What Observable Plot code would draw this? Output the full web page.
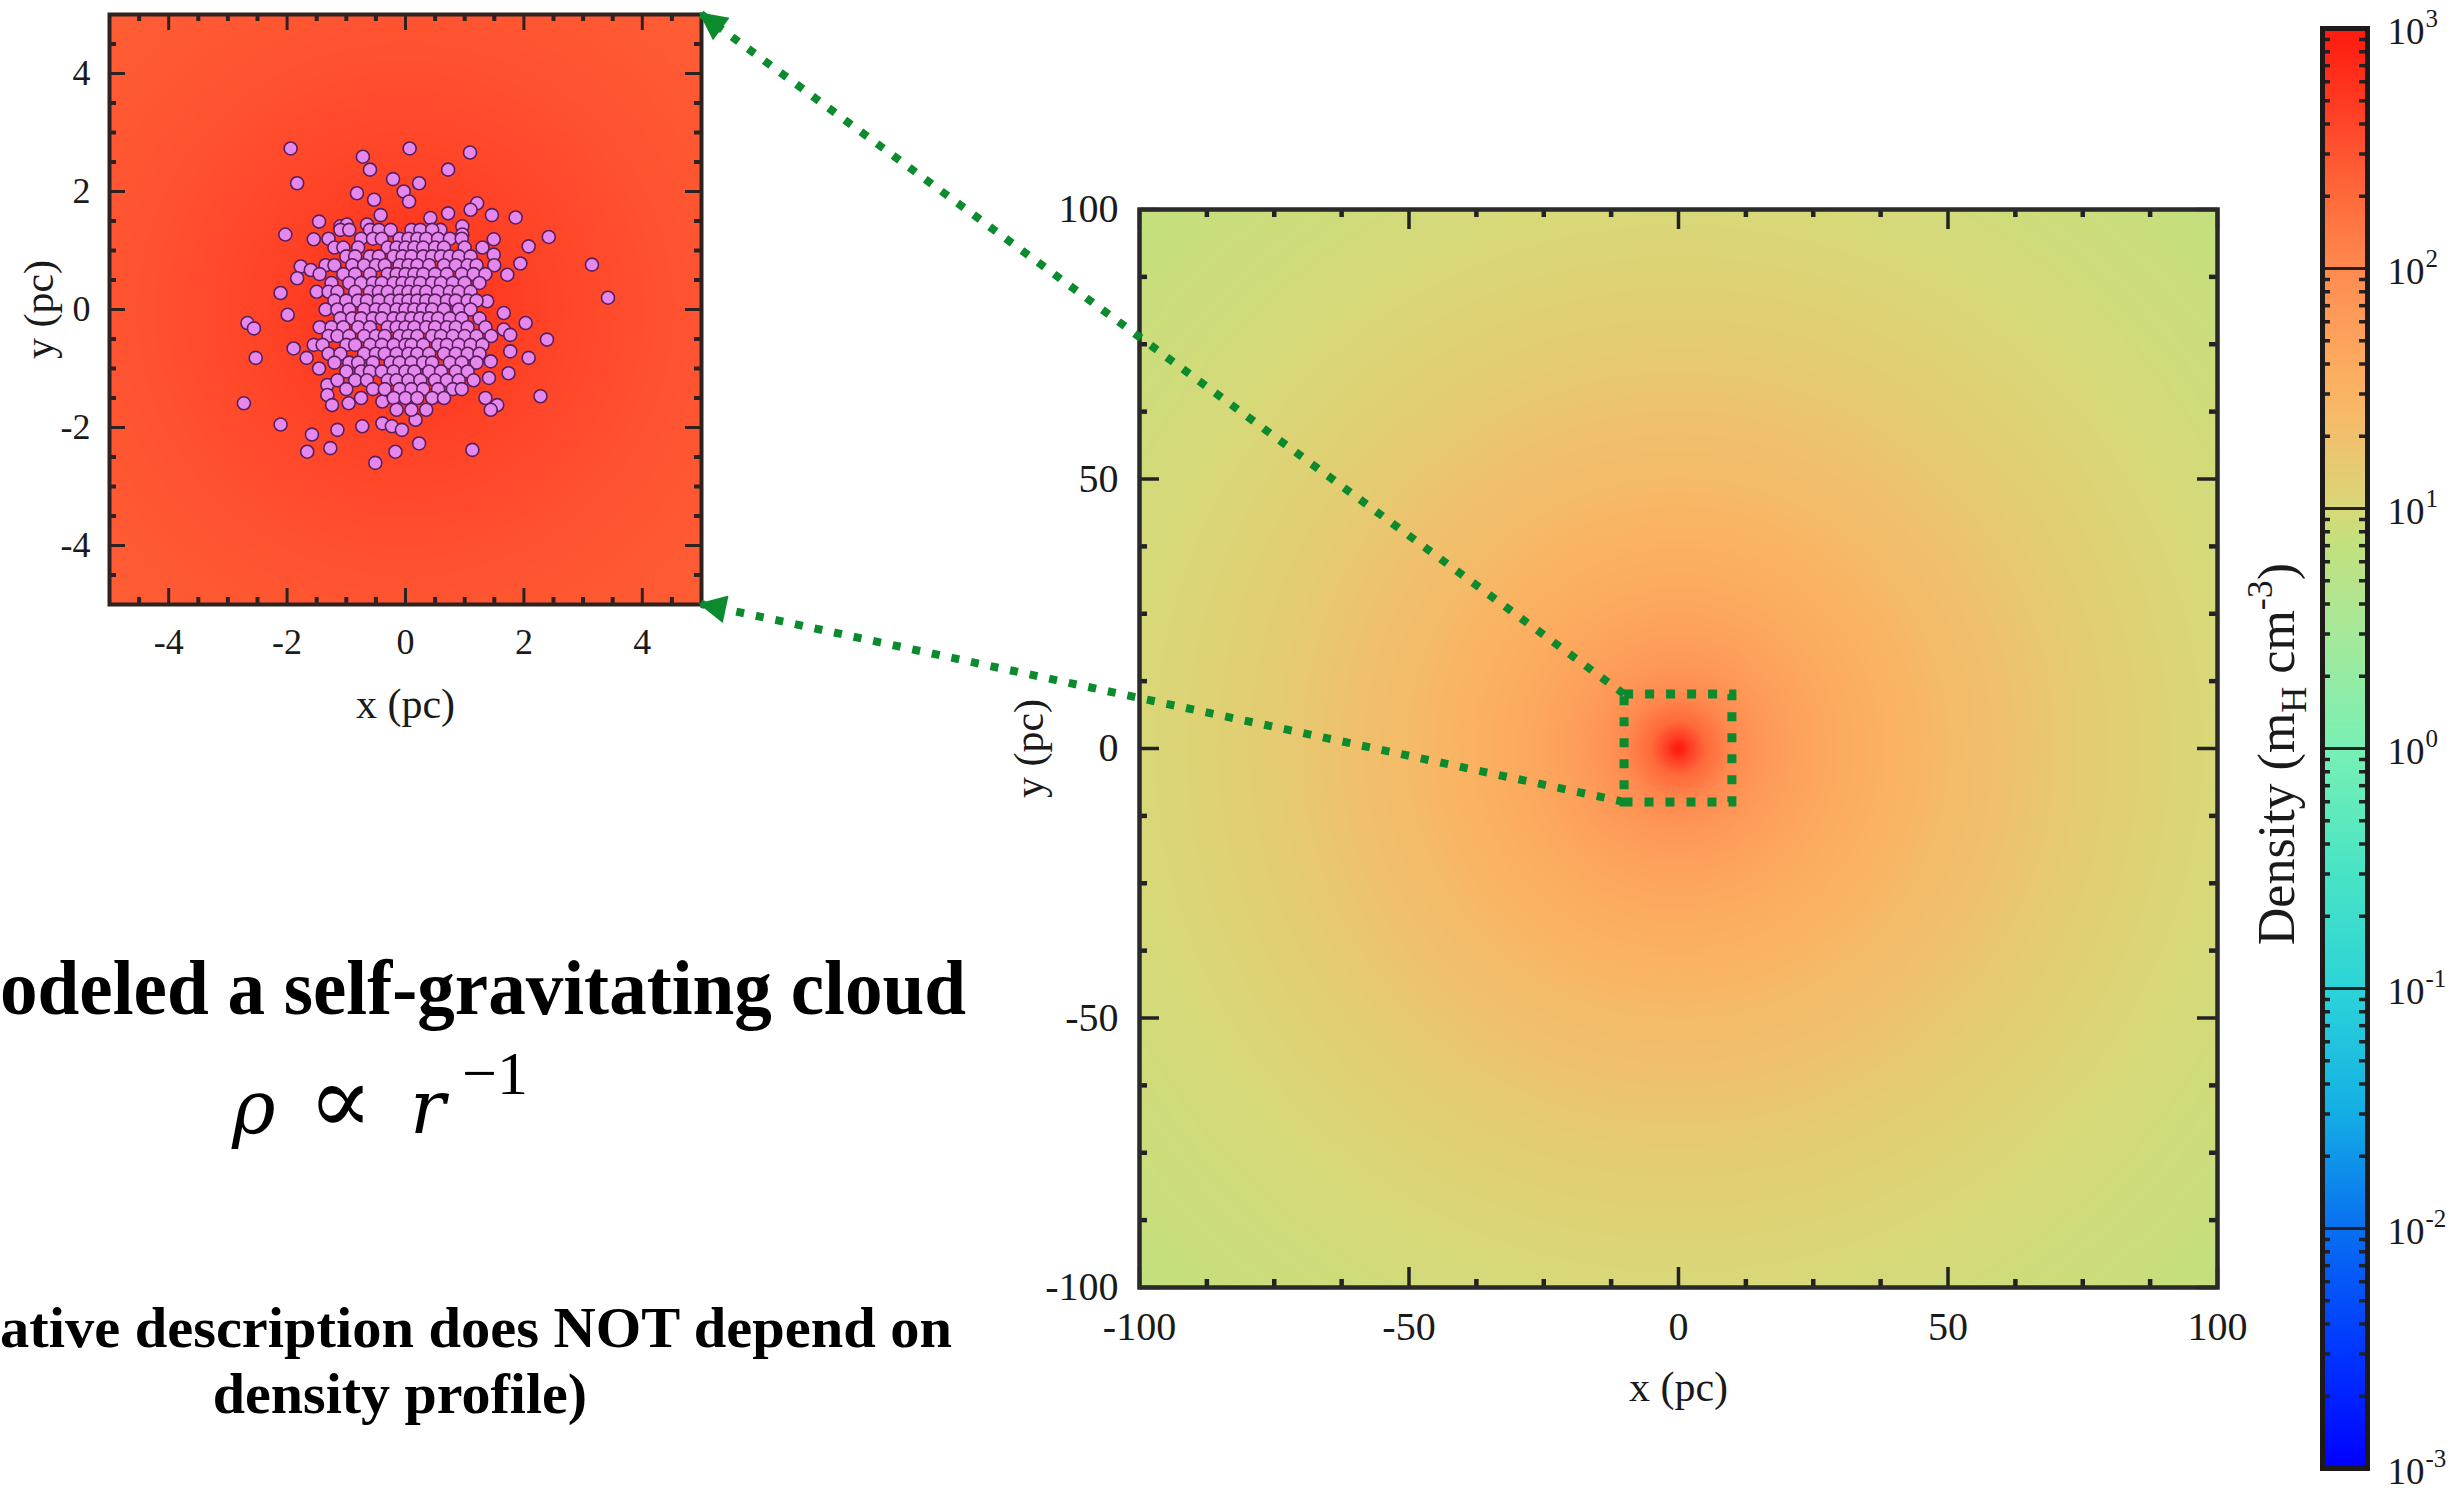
<!DOCTYPE html>
<html><head><meta charset="utf-8">
<script src="https://cdn.jsdelivr.net/npm/d3@7"></script>
<script src="https://cdn.jsdelivr.net/npm/@observablehq/plot@0.6"></script>
<style>
html,body{margin:0;padding:0;background:#fff;}
#page{position:relative;width:2463px;height:1492px;overflow:hidden;background:#fff;font-family:"Liberation Serif",serif;}
#page svg{position:absolute;background:transparent;max-width:none;}
</style></head><body><div id="page"></div>
<script>
// ---------- data ----------
const densityDecades = [-3, -2, -1, 0, 1, 2, 3];
const colorStopsLog = [-3, -2.5, -2, -1.5, -1, -0.5, 0, 0.5, 0.85, 1, 1.3, 1.5, 1.7, 2, 2.3, 2.5, 2.7, 3];
const colorStops = ["#0000ff","#0038ff","#0870f0","#14b0e4","#2cd4d8","#4ae4c4","#78f0b4","#a8e898","#c2e07e","#d8d878","#f0c06c","#fbb262","#fda35c","#ff8a50","#ff6a3a","#ff5230","#ff3a20","#ff1a10"];
// radial density profile (r in pc, log10 density)
const mainProfileR = [0, 1, 2, 5, 10, 15, 20, 30, 50, 75, 100, 142];
const mainProfileLog = [3.0, 2.9, 2.7, 2.3, 2.0, 1.85, 1.75, 1.6, 1.38, 1.16, 1.0, 0.85];
// radial profile
const insetProfileR = [0, 1, 2, 3, 5, 7.1];
const insetProfileLog = [2.85, 2.75, 2.65, 2.58, 2.48, 2.4];
const mainExtent = [-100, 100];
const insetExtent = [-5, 5];
const zoomBox = [-10, 10];
const mainTicksMajor = [-100, -50, 0, 50, 100];
const mainTicksMinor = [-87.5, -75, -62.5, -37.5, -25, -12.5, 12.5, 25, 37.5, 62.5, 75, 87.5];
const insetTicksMajor = [-4, -2, 0, 2, 4];
const insetTicksMinor = [-4.5, -3.5, -3, -2.5, -1.5, -1, -0.5, 0.5, 1, 1.5, 2.5, 3, 3.5, 4.5];
// star positions in the inset (pc)
const outerX = [-1.94,0.07,1.09,-0.72,-0.60,0.72,-1.83,-0.21,0.23,-0.82,-0.53,-0.03,0.06,-0.42,1.21,1.10,0.72,1.46,1.86,-1.46,-1.10,-0.99,-0.65,0.42,0.59,0.96,0.96,-2.03,2.42,-1.55,1.49,2.08,1.49,1.94,3.15,3.42,-1.77,-1.60,-1.83,-2.11,1.38,1.72,-1.99,-2.67,-2.56,1.66,2.03,2.39,1.66,1.77,-2.53,-1.89,-1.67,-1.46,1.77,2.08,1.44,1.74,1.41,-2.73,2.28,1.35,1.55,1.44,-1.32,-1.32,-1.24,-0.96,-2.11,-1.58,-1.15,-1.66,-1.27,-0.73,-0.39,-0.23,-0.06,0.17,-0.39,0.23,-0.17,-0.51,1.13];
const outerY = [2.73,2.73,2.66,2.59,2.37,2.37,2.14,2.21,2.14,1.97,1.86,2.0,1.83,1.60,1.80,1.69,1.63,1.60,1.56,1.49,1.41,1.44,1.44,1.55,1.35,1.41,1.27,1.27,1.23,1.19,1.19,1.07,0.93,0.78,0.76,0.2,0.73,0.67,0.53,0.28,0.14,0.59,-0.09,-0.23,-0.32,-0.06,-0.23,-0.51,-0.34,-0.43,-0.82,-0.66,-0.82,-1.0,-0.71,-0.82,-0.88,-1.08,-1.16,-1.59,-1.47,-1.50,-1.62,-1.70,-1.28,-1.45,-1.62,-1.59,-1.95,-2.12,-2.04,-2.41,-2.35,-1.98,-1.93,-1.98,-2.04,-1.87,-1.56,-2.27,-2.41,-2.60,-2.38];
const coreRowY = [1.35, 1.2, 1.05, 0.9, 0.75, 0.6, 0.45, 0.3, 0.15, 0.0, -0.15, -0.3, -0.45, -0.6, -0.75, -0.9, -1.05, -1.2, -1.35, -1.5, -1.7];
const coreRowX = [
  [-1.1,-0.95,-0.6,-0.45,-0.25,0.1,0.25,0.45],
  [-1.3,-0.75,-0.55,-0.4,-0.1,0.05,0.2,0.35,0.55,0.75,0.95],
  [-1.2,-1.05,-0.8,-0.3,-0.15,0.0,0.15,0.3,0.5,0.65,1.0,1.3],
  [-1.0,-0.85,-0.6,-0.45,-0.2,-0.05,0.1,0.3,0.45,0.6,0.75,0.9,1.1],
  [-1.35,-1.2,-0.9,-0.7,-0.5,-0.35,-0.1,0.05,0.2,0.4,0.65,0.85,1.05,1.2,1.5],
  [-1.45,-1.05,-0.85,-0.6,-0.3,-0.15,0.0,0.15,0.3,0.5,0.7,0.95,1.15,1.35],
  [-1.25,-0.95,-0.75,-0.55,-0.4,-0.2,-0.05,0.1,0.25,0.45,0.6,0.8,1.0,1.25],
  [-1.5,-1.3,-1.15,-0.85,-0.6,-0.45,-0.3,-0.1,0.05,0.2,0.35,0.55,0.75,0.9,1.1],
  [-1.2,-1.0,-0.8,-0.65,-0.45,-0.25,-0.1,0.05,0.2,0.35,0.5,0.7,0.85,1.05,1.2],
  [-1.35,-1.15,-0.95,-0.7,-0.5,-0.35,-0.15,0.0,0.15,0.3,0.45,0.65,0.9,1.1],
  [-1.1,-0.9,-0.75,-0.55,-0.4,-0.2,-0.05,0.1,0.25,0.4,0.55,0.75,0.95,1.25],
  [-1.45,-1.25,-1.05,-0.8,-0.6,-0.3,-0.15,0.0,0.15,0.35,0.5,0.7,0.85,1.05,1.35],
  [-1.3,-1.15,-0.95,-0.7,-0.5,-0.35,-0.1,0.05,0.2,0.45,0.6,0.8,1.0,1.2,1.45],
  [-1.55,-1.4,-1.0,-0.85,-0.6,-0.4,-0.2,0.0,0.1,0.3,0.55,0.7,0.9,1.1,1.3],
  [-1.3,-1.1,-0.7,-0.5,-0.35,-0.15,0.05,0.2,0.4,0.65,0.85,1.05,1.25],
  [-1.2,-0.95,-0.8,-0.55,-0.25,-0.1,0.1,0.3,0.45,0.75,0.95,1.2],
  [-1.0,-0.75,-0.6,-0.4,-0.2,0.0,0.15,0.4,0.6,0.85,1.05],
  [-1.15,-0.85,-0.65,-0.3,-0.15,0.05,0.25,0.5,0.7,0.9,1.15],
  [-1.0,-0.55,-0.35,-0.1,0.1,0.3,0.55,0.8,0.95],
  [-0.75,-0.2,0.0,0.2,0.45,0.65],
  [-0.15,0.1,0.35]
];

// ---------- build tables ----------
const stars = outerX.map((x, i) => ({x, y: outerY[i]}));
coreRowY.forEach((y, i) => coreRowX[i].forEach(x => stars.push({x, y})));
const boxData = [{x1: zoomBox[0], x2: zoomBox[1], y1: zoomBox[0], y2: zoomBox[1]}];
const mainLog = d3.scaleLinear().domain(mainProfileR).range(mainProfileLog).clamp(true);
const insetLog = d3.scaleLinear().domain(insetProfileR).range(insetProfileLog).clamp(true);
const colorOpts = {type: "linear", domain: colorStopsLog, range: colorStops, interpolate: "rgb"};
const minorDecades = [];
for (let n = -3; n < 3; n++) for (let k = 2; k <= 9; k++) minorDecades.push(n + Math.log10(k));
const plain = d => String(d);

const page = document.getElementById("page");
function place(el, left, top) { el.style.left = left + "px"; el.style.top = top + "px"; page.appendChild(el); return el; }

function inwardTicks(major, minor, fw, fh, majLen, minLen, stroke, sw) {
  return [
    Plot.tickX(major, {x: d => d, insetTop: fh - majLen, stroke, strokeWidth: sw}),
    Plot.tickX(major, {x: d => d, insetBottom: fh - majLen, stroke, strokeWidth: sw}),
    Plot.tickX(minor, {x: d => d, insetTop: fh - minLen, stroke, strokeWidth: sw + 1}),
    Plot.tickX(minor, {x: d => d, insetBottom: fh - minLen, stroke, strokeWidth: sw + 1}),
    Plot.tickY(major, {y: d => d, insetRight: fw - majLen, stroke, strokeWidth: sw}),
    Plot.tickY(major, {y: d => d, insetLeft: fw - majLen, stroke, strokeWidth: sw}),
    Plot.tickY(minor, {y: d => d, insetRight: fw - minLen, stroke, strokeWidth: sw + 1}),
    Plot.tickY(minor, {y: d => d, insetLeft: fw - minLen, stroke, strokeWidth: sw + 1})
  ];
}

// ---------- inset ----------
const INS = {left: 0, top: 0, w: 760, h: 740, ml: 109, mr: 59, mt: 14, mb: 136};
const insFW = INS.w - INS.ml - INS.mr, insFH = INS.h - INS.mt - INS.mb;
const inset = Plot.plot({
  width: INS.w, height: INS.h,
  marginLeft: INS.ml, marginRight: INS.mr, marginTop: INS.mt, marginBottom: INS.mb,
  x: {domain: insetExtent, label: null}, y: {domain: insetExtent, label: null},
  color: colorOpts,
  style: {fontFamily: "Liberation Serif", fontSize: "36px", color: "#1a1a1a", background: "transparent", overflow: "visible"},
  marks: [
    Plot.raster({fill: (x, y) => insetLog(Math.hypot(x, y)), x1: insetExtent[0], x2: insetExtent[1], y1: insetExtent[0], y2: insetExtent[1], pixelSize: 2}),
    Plot.dot(stars, {x: "x", y: "y", r: 6.5, fill: "#e588ee", stroke: "#5a1e5c", strokeWidth: 1.6}),
    ...inwardTicks(insetTicksMajor, insetTicksMinor, insFW, insFH, 16, 7, "#2e2220", 3),
    Plot.frame({stroke: "#2e2220", strokeWidth: 4}),
    Plot.axisX(insetTicksMajor, {tickSize: 0, tickPadding: 24, fontSize: 36, label: null, tickFormat: plain}),
    Plot.axisY(insetTicksMajor, {tickSize: 0, tickPadding: 19, fontSize: 36, label: null, tickFormat: plain}),
    Plot.text(["x (pc)"], {text: d => d, frameAnchor: "bottom", lineAnchor: "middle", dy: 100, fontSize: 42}),
    Plot.text(["y (pc)"], {text: d => d, frameAnchor: "left", textAnchor: "middle", lineAnchor: "middle", dx: -70, rotate: -90, fontSize: 42})
  ]
});
place(inset, INS.left, INS.top);

// ---------- main map ----------
const MN = {left: 1000, top: 150, w: 1260, h: 1300, ml: 139, mr: 43, mt: 59, mb: 163};
const mnFW = MN.w - MN.ml - MN.mr, mnFH = MN.h - MN.mt - MN.mb;
const main = Plot.plot({
  width: MN.w, height: MN.h,
  marginLeft: MN.ml, marginRight: MN.mr, marginTop: MN.mt, marginBottom: MN.mb,
  x: {domain: mainExtent, label: null}, y: {domain: mainExtent, label: null},
  color: colorOpts,
  style: {fontFamily: "Liberation Serif", fontSize: "40px", color: "#1a1a1a", background: "transparent", overflow: "visible"},
  marks: [
    Plot.raster({fill: (x, y) => mainLog(Math.hypot(x, y)), x1: mainExtent[0], x2: mainExtent[1], y1: mainExtent[0], y2: mainExtent[1], pixelSize: 2}),
    ...inwardTicks(mainTicksMajor, mainTicksMinor, mnFW, mnFH, 20, 8, "#222", 3.5),
    Plot.rect(boxData, {x1: "x1", x2: "x2", y1: "y1", y2: "y2", fill: "none", stroke: "#0b8a2e", strokeWidth: 9, strokeDasharray: "9,12"}),
    Plot.frame({stroke: "#2a2a2a", strokeWidth: 4.5}),
    Plot.axisX(mainTicksMajor, {tickSize: 0, tickPadding: 24, fontSize: 40, label: null, tickFormat: plain}),
    Plot.axisY(mainTicksMajor, {tickSize: 0, tickPadding: 21, fontSize: 40, label: null, tickFormat: plain}),
    Plot.text(["x (pc)"], {text: d => d, frameAnchor: "bottom", lineAnchor: "middle", dy: 100, fontSize: 42}),
    Plot.text(["y (pc)"], {text: d => d, frameAnchor: "left", textAnchor: "middle", lineAnchor: "middle", dx: -110, rotate: -90, fontSize: 42})
  ]
});
place(main, MN.left, MN.top);

// ---------- colour bar ----------
const CB = {left: 2240, top: 0, w: 223, h: 1492, ml: 82, mr: 96, mt: 28, mb: 24};
const cbFW = CB.w - CB.ml - CB.mr;
const cbar = Plot.plot({
  width: CB.w, height: CB.h,
  marginLeft: CB.ml, marginRight: CB.mr, marginTop: CB.mt, marginBottom: CB.mb,
  x: {domain: [0, 1], axis: null}, y: {domain: [densityDecades[0], densityDecades[densityDecades.length - 1]], axis: null},
  color: colorOpts,
  style: {fontFamily: "Liberation Serif", fontSize: "38px", color: "#1a1a1a", background: "transparent", overflow: "visible"},
  marks: [
    Plot.raster({fill: (x, y) => y, x1: 0, x2: 1, y1: densityDecades[0], y2: densityDecades[densityDecades.length - 1], pixelSize: 1}),
    Plot.tickY(minorDecades, {y: d => d, insetRight: cbFW - 8, stroke: "#222", strokeWidth: 3.5}),
    Plot.tickY(minorDecades, {y: d => d, insetLeft: cbFW - 8, stroke: "#222", strokeWidth: 3.5}),
    Plot.ruleY(densityDecades.slice(1, -1), {stroke: "#222", strokeWidth: 3}),
    Plot.frame({stroke: "#1e1a1a", strokeWidth: 5}),
    Plot.text(densityDecades, {y: d => d, text: () => "10", frameAnchor: "right", textAnchor: "start", dx: 20, dy: 4, fontSize: 37}),
    Plot.text(densityDecades, {y: d => d, text: d => (d < 0 ? "-" : "") + Math.abs(d), frameAnchor: "right", textAnchor: "start", dx: 58, dy: -10, fontSize: 25})
  ]
});
place(cbar, CB.left, CB.top);

// ---------- overlay: connectors and annotations ----------
const ov = d3.select(page).append("svg")
  .attr("width", 2463).attr("height", 1492)
  .style("left", "0px").style("top", "0px").style("pointer-events", "none");
const green = "#0b8a2e";
ov.append("defs").append("marker")
  .attr("id", "arr").attr("viewBox", "0 0 10 10").attr("refX", 9).attr("refY", 5)
  .attr("markerUnits", "userSpaceOnUse").attr("markerWidth", 32).attr("markerHeight", 28)
  .attr("orient", "auto")
  .append("path").attr("d", "M0,0 L10,5 L0,10 z").attr("fill", green);
const ix = inset.scale("x"), iy = inset.scale("y"), mx = main.scale("x"), my = main.scale("y");
const connectors = [
  {from: [MN.left + mx.apply(zoomBox[0]), MN.top + my.apply(zoomBox[1])], to: [INS.left + ix.apply(insetExtent[1]), INS.top + iy.apply(insetExtent[1])]},
  {from: [MN.left + mx.apply(zoomBox[0]), MN.top + my.apply(zoomBox[0])], to: [INS.left + ix.apply(insetExtent[1]), INS.top + iy.apply(insetExtent[0])]}
];
connectors.forEach(c => {
  ov.append("line").attr("x1", c.from[0]).attr("y1", c.from[1]).attr("x2", c.to[0]).attr("y2", c.to[1])
    .attr("stroke", green).attr("stroke-width", 8).attr("stroke-dasharray", "8,12")
    .attr("marker-end", "url(#arr)");
});

const serif = "Liberation Serif";
ov.append("text").attr("x", 0).attr("y", 1014).attr("font-family", serif).attr("font-weight", "bold")
  .attr("font-size", 78).attr("textLength", 966).attr("lengthAdjust", "spacingAndGlyphs")
  .attr("fill", "#000").text("odeled a self-gravitating cloud");

const eq = ov.append("text").attr("y", 1133).attr("fill", "#000").attr("font-size", 84);
eq.append("tspan").attr("x", 232).attr("font-family", "DejaVu Serif").attr("font-style", "italic").attr("font-size", 74).text("ρ");
eq.append("tspan").attr("x", 308).attr("font-family", "'Liberation Serif', 'DejaVu Serif'").attr("font-size", 96).text("∝");
eq.append("tspan").attr("x", 410).attr("font-family", "DejaVu Serif").attr("font-style", "italic").attr("font-size", 74).text("r");
eq.append("tspan").attr("x", 462).attr("y", 1094).attr("font-family", serif).attr("font-size", 62).text("−1");

ov.append("text").attr("x", 0).attr("y", 1347).attr("font-family", serif).attr("font-weight", "bold")
  .attr("font-size", 58).attr("textLength", 952).attr("lengthAdjust", "spacingAndGlyphs")
  .attr("fill", "#000").text("ative description does NOT depend on");
ov.append("text").attr("x", 400).attr("y", 1413).attr("text-anchor", "middle").attr("font-family", serif)
  .attr("font-weight", "bold").attr("font-size", 58).attr("fill", "#000").text("density profile)");

const dl = ov.append("text").attr("transform", "translate(2294,754) rotate(-90)").attr("text-anchor", "middle")
  .attr("font-family", serif).attr("font-size", 52).attr("fill", "#1a1a1a");
dl.append("tspan").text("Density (m");
dl.append("tspan").attr("dy", 12).attr("font-size", 36).text("H");
dl.append("tspan").attr("dy", -12).text(" cm");
dl.append("tspan").attr("dy", -22).attr("font-size", 36).text("-3");
dl.append("tspan").attr("dy", 22).text(")");
</script></body></html>
